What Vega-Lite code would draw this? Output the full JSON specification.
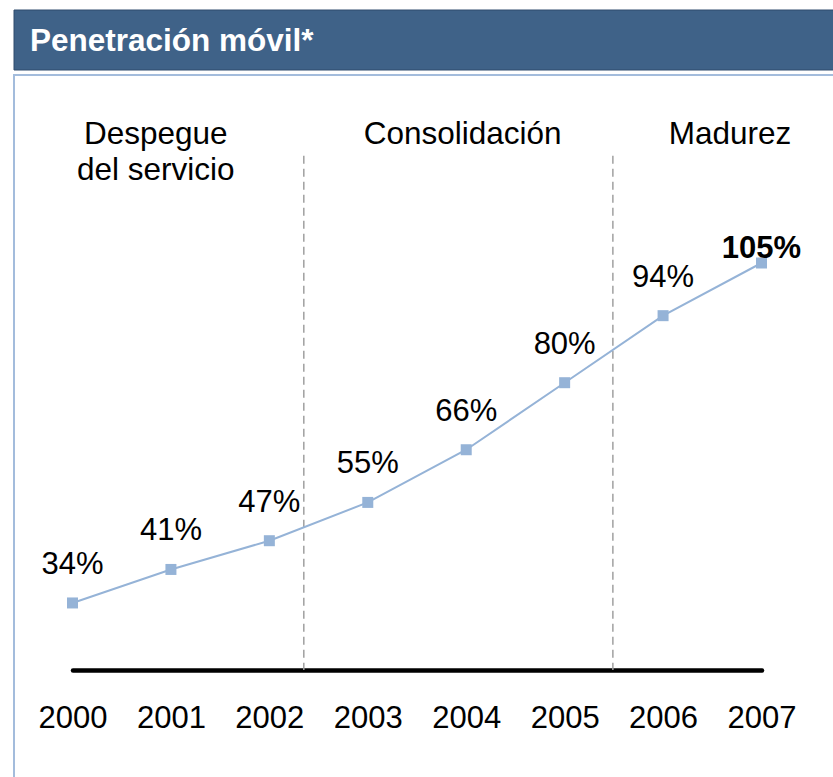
{
  "$schema": "https://vega.github.io/schema/vega-lite/v6.json",
  "padding": {"left": 13, "top": 9, "right": 0, "bottom": 0},
  "background": "white",
  "spacing": 3,
  "config": {"font": "Liberation Sans", "view": {"stroke": null}},
  "datasets": {
    "cabecera": [
      {"titulo": "Penetración móvil*"}
    ],
    "penetracion": [
      {"year": 2000, "value": 0.34},
      {"year": 2001, "value": 0.41},
      {"year": 2002, "value": 0.47},
      {"year": 2003, "value": 0.55},
      {"year": 2004, "value": 0.66},
      {"year": 2005, "value": 0.80},
      {"year": 2006, "value": 0.94},
      {"year": 2007, "value": 1.05}
    ],
    "fases": [
      {"year": 2000.846, "phase": "Despegue\ndel servicio"},
      {"year": 2003.963, "phase": "Consolidación"},
      {"year": 2006.68, "phase": "Madurez"}
    ],
    "divisiones": [
      {"year": 2002.35},
      {"year": 2005.49}
    ]
  },
  "vconcat": [
    {
      "width": 830,
      "height": 60,
      "data": {"name": "cabecera"},
      "layer": [
        {
          "mark": {"type": "rect", "color": "#3F6288", "stroke": "#2E4B6C", "strokeWidth": 1},
          "encoding": {}
        },
        {
          "mark": {"type": "text", "align": "left", "baseline": "alphabetic", "dx": 16, "dy": -19, "color": "white", "fontSize": 31.5, "fontWeight": "bold", "font": "Liberation Sans"},
          "encoding": {
            "x": {"datum": 0, "type": "quantitative", "scale": {"domain": [0, 1]}, "axis": null},
            "y": {"datum": 0, "type": "quantitative", "scale": {"domain": [0, 1]}, "axis": null},
            "text": {"field": "titulo"}
          }
        }
      ]
    },
    {
      "width": 830,
      "height": 720,
      "view": {"stroke": "#A3BCDC", "strokeWidth": 2},
      "encoding": {
        "x": {
          "field": "year",
          "type": "quantitative",
          "scale": {"domain": [2000, 2007], "range": [58.5, 747.5]},
          "axis": {
            "values": [2000, 2001, 2002, 2003, 2004, 2005, 2006, 2007],
            "format": "d",
            "offset": -125,
            "domainColor": "black",
            "domainWidth": 4.5,
            "domainCap": "round",
            "ticks": false,
            "tickSize": 0,
            "grid": false,
            "title": null,
            "labelFontSize": 31,
            "labelColor": "black",
            "labelFont": "Liberation Sans",
            "labelBaseline": "alphabetic",
            "labelPadding": 57,
            "labelFlush": false,
            "labelOverlap": false
          }
        }
      },
      "layer": [
        {
          "data": {"name": "divisiones"},
          "mark": {"type": "rule", "color": "#A0A0A0", "strokeWidth": 1.5, "strokeDash": [8, 5]},
          "encoding": {
            "y": {"datum": 1.274, "type": "quantitative", "scale": {"domain": [0.2, 1.05], "range": [595, 188]}, "axis": null},
            "y2": {"datum": 0.2}
          }
        },
        {
          "data": {"name": "fases"},
          "mark": {"type": "text", "align": "center", "baseline": "alphabetic", "fontSize": 31.5, "lineHeight": 36.5, "lineBreak": "\n", "color": "black", "font": "Liberation Sans"},
          "encoding": {
            "y": {"datum": 1.299, "type": "quantitative", "scale": {"domain": [0.2, 1.05], "range": [595, 188]}, "axis": null},
            "text": {"field": "phase"}
          }
        },
        {
          "data": {"name": "penetracion"},
          "mark": {"type": "line", "color": "#95B3D7", "strokeWidth": 2},
          "encoding": {
            "y": {"field": "value", "type": "quantitative", "scale": {"domain": [0.2, 1.05], "range": [595, 188]}, "axis": null}
          }
        },
        {
          "data": {"name": "penetracion"},
          "mark": {"type": "point", "shape": "square", "filled": true, "size": 121, "color": "#95B3D7", "opacity": 1},
          "encoding": {
            "y": {"field": "value", "type": "quantitative", "scale": {"domain": [0.2, 1.05], "range": [595, 188]}, "axis": null}
          }
        },
        {
          "data": {"name": "penetracion"},
          "transform": [{"filter": "datum.year < 2007"}],
          "mark": {"type": "text", "align": "center", "baseline": "alphabetic", "dy": -29, "fontSize": 31, "color": "black", "font": "Liberation Sans"},
          "encoding": {
            "y": {"field": "value", "type": "quantitative", "scale": {"domain": [0.2, 1.05], "range": [595, 188]}, "axis": null},
            "text": {"field": "value", "type": "quantitative", "format": ".0%"}
          }
        },
        {
          "data": {"name": "penetracion"},
          "transform": [{"filter": "datum.year == 2007"}],
          "mark": {"type": "text", "align": "center", "baseline": "alphabetic", "dy": -5, "fontSize": 31, "fontWeight": "bold", "color": "black", "font": "Liberation Sans"},
          "encoding": {
            "y": {"field": "value", "type": "quantitative", "scale": {"domain": [0.2, 1.05], "range": [595, 188]}, "axis": null},
            "text": {"field": "value", "type": "quantitative", "format": ".0%"}
          }
        }
      ]
    }
  ]
}
